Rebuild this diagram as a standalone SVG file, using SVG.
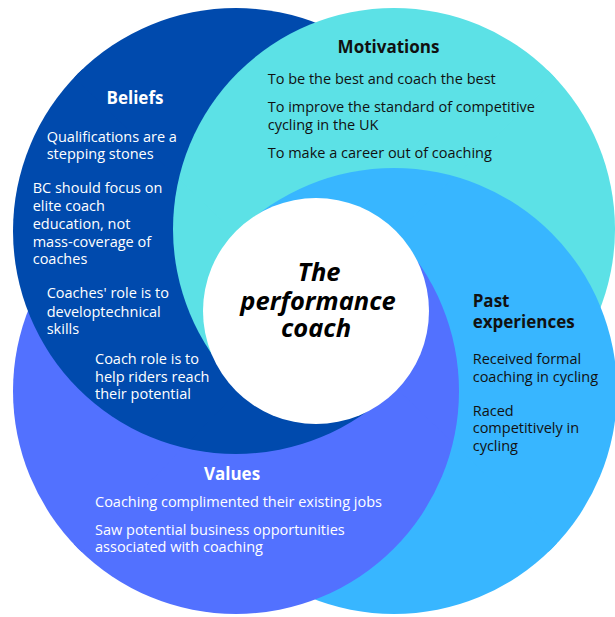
<svg xmlns="http://www.w3.org/2000/svg" xmlns:xlink="http://www.w3.org/1999/xlink" width="615" height="617" viewBox="0 0 615 617">
  <style>
    .body { font-family: "Open Sans", "Noto Sans", sans-serif; font-size: 14.5px; }
    .head { font-family: "Open Sans", "Noto Sans", sans-serif; font-size: 17px; font-weight: 700; }
    .light { fill: #ffffff; }
    .dark { fill: #111111; }
    .title { font-family: "Open Sans", "Noto Sans", sans-serif; font-size: 25.5px; font-weight: 700; font-style: italic; fill: #000000; text-anchor: middle; }
  </style>
  <defs>
    <!-- the four theme circles -->
    <circle id="c-beliefs" cx="236" cy="231" r="223" fill="#004aad"/>
    <circle id="c-motivations" cx="394" cy="229" r="221" fill="#5ce1e6"/>
    <circle id="c-past" cx="394" cy="391" r="223" fill="#38b6ff"/>
    <circle id="c-values" cx="236" cy="391" r="223" fill="#5271ff"/>
    <!-- four wedges around the centre; each one stacks the circles in its own order
         so that every circle overlaps the next one in turn (a swirl).
         Masks composite each stack as one layer, so wedge edges stay seamless. -->
    <mask id="wedge-right" maskUnits="userSpaceOnUse" x="-1000" y="-1000" width="3000" height="3000">
      <polygon fill="#ffffff" points="315.5,310.5 1010.2,-408.8 1315.5,310.5 1010.2,1029.8"/>
    </mask>
    <mask id="wedge-bottom" maskUnits="userSpaceOnUse" x="-1000" y="-1000" width="3000" height="3000">
      <polygon fill="#ffffff" points="315.5,310.5 1034.8,1005.2 315.5,1310.5 -403.8,1005.2"/>
    </mask>
    <mask id="wedge-left" maskUnits="userSpaceOnUse" x="-1000" y="-1000" width="3000" height="3000">
      <polygon fill="#ffffff" points="315.5,310.5 -379.2,1029.8 -684.5,310.5 -379.2,-408.8"/>
    </mask>
    <mask id="wedge-top" maskUnits="userSpaceOnUse" x="-1000" y="-1000" width="3000" height="3000">
      <polygon fill="#ffffff" points="315.5,310.5 -403.8,-384.2 315.5,-689.5 1034.8,-384.2"/>
    </mask>
  </defs>

  <rect width="615" height="617" fill="#ffffff"/>

  <g id="swirl">
    <g mask="url(#wedge-right)">
      <use xlink:href="#c-beliefs"/><use xlink:href="#c-motivations"/><use xlink:href="#c-past"/><use xlink:href="#c-values"/>
    </g>
    <g mask="url(#wedge-bottom)">
      <use xlink:href="#c-motivations"/><use xlink:href="#c-past"/><use xlink:href="#c-values"/><use xlink:href="#c-beliefs"/>
    </g>
    <g mask="url(#wedge-left)">
      <use xlink:href="#c-past"/><use xlink:href="#c-values"/><use xlink:href="#c-beliefs"/><use xlink:href="#c-motivations"/>
    </g>
    <g mask="url(#wedge-top)">
      <use xlink:href="#c-values"/><use xlink:href="#c-beliefs"/><use xlink:href="#c-motivations"/><use xlink:href="#c-past"/>
    </g>
  </g>

  <g id="centre">
    <circle cx="316" cy="311" r="113" fill="#ffffff"/>
    <text class="title" x="319" y="281">The</text>
    <text class="title" x="318" y="310">performance</text>
    <text class="title" x="316" y="337">coach</text>
  </g>

  <g id="beliefs">
    <text class="head light" x="135" y="104" text-anchor="middle">Beliefs</text>
    <text class="body light" x="46.7" y="141.7">Qualifications are a</text>
    <text class="body light" x="46.7" y="159.3">stepping stones</text>
    <text class="body light" x="32.7" y="193.3">BC should focus on</text>
    <text class="body light" x="32.7" y="211">elite coach</text>
    <text class="body light" x="32.7" y="228.7">education, not</text>
    <text class="body light" x="32.7" y="246.5">mass-coverage of</text>
    <text class="body light" x="32.7" y="264.3">coaches</text>
    <text class="body light" x="46.7" y="298.3">Coaches' role is to</text>
    <text class="body light" x="46.7" y="316.5">developtechnical</text>
    <text class="body light" x="46.7" y="334">skills</text>
    <text class="body light" x="95" y="364">Coach role is to</text>
    <text class="body light" x="95" y="381.7">help riders reach</text>
    <text class="body light" x="95" y="399.3">their potential</text>
  </g>

  <g id="motivations">
    <text class="head dark" x="388.5" y="53" text-anchor="middle">Motivations</text>
    <text class="body dark" x="267.7" y="84">To be the best and coach the best</text>
    <text class="body dark" x="267.7" y="112.3">To improve the standard of competitive</text>
    <text class="body dark" x="267.7" y="130">cycling in the UK</text>
    <text class="body dark" x="267.7" y="158.3">To make a career out of coaching</text>
  </g>

  <g id="past-experiences">
    <text class="head dark" x="472.7" y="306.7">Past</text>
    <text class="head dark" x="472.7" y="327.7">experiences</text>
    <text class="body dark" x="472.7" y="364.3">Received formal</text>
    <text class="body dark" x="472.7" y="381.7">coaching in cycling</text>
    <text class="body dark" x="472.7" y="416">Raced</text>
    <text class="body dark" x="472.7" y="433.3">competitively in</text>
    <text class="body dark" x="472.7" y="450.7">cycling</text>
  </g>

  <g id="values">
    <text class="head light" x="232" y="480" text-anchor="middle">Values</text>
    <text class="body light" x="95" y="506.7">Coaching complimented their existing jobs</text>
    <text class="body light" x="95" y="535">Saw potential business opportunities</text>
    <text class="body light" x="95" y="552.2">associated with coaching</text>
  </g>
</svg>
